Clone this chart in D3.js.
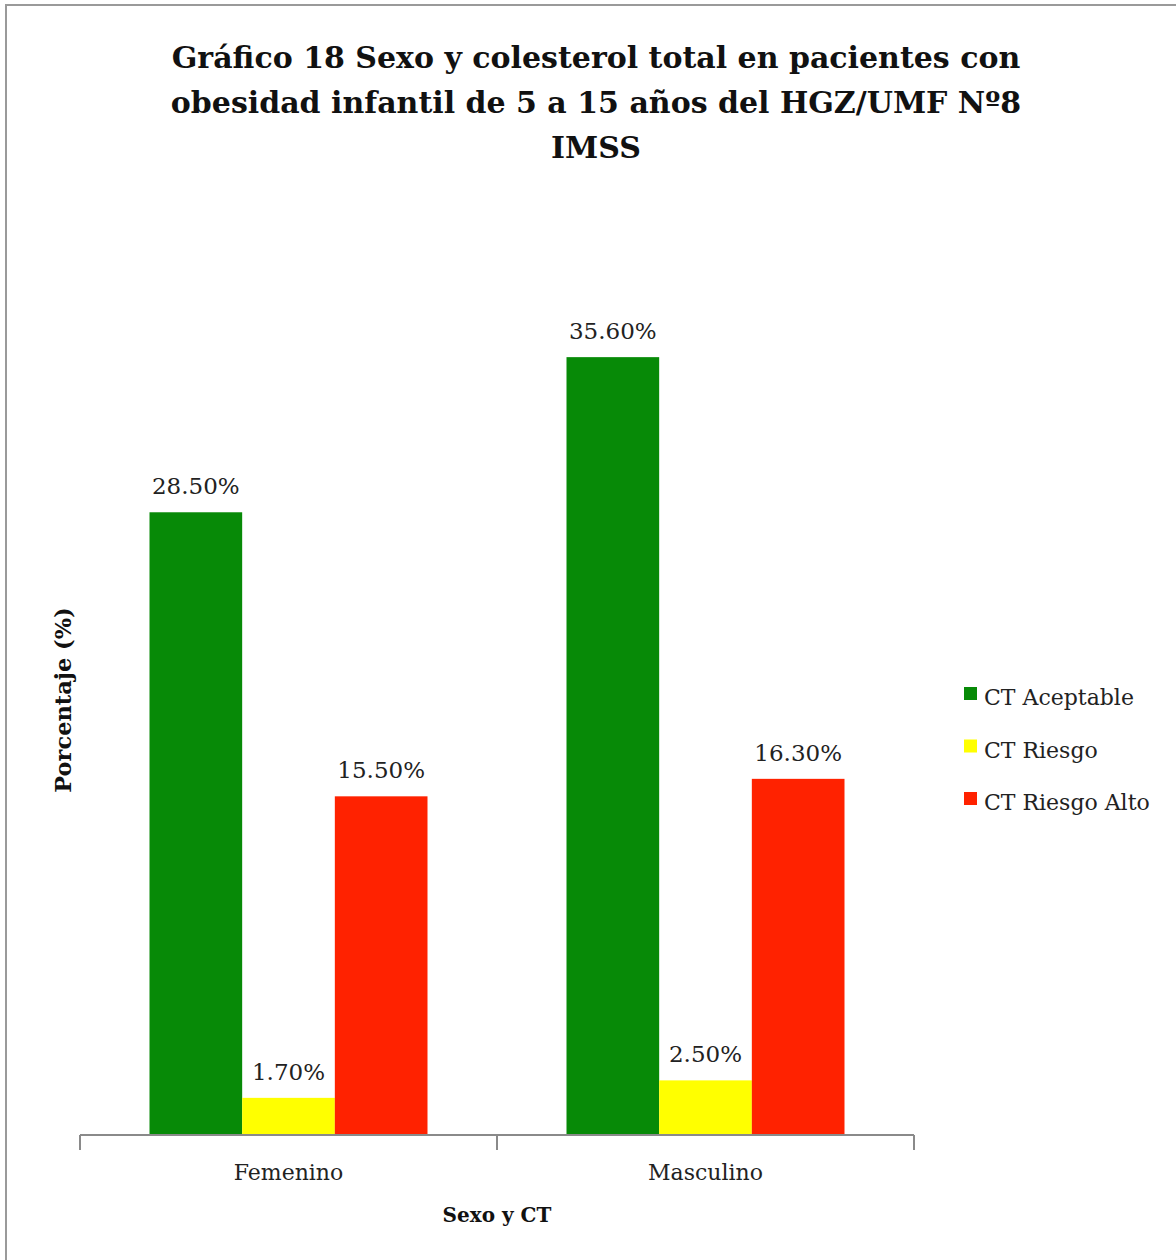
<!DOCTYPE html>
<html>
<head>
<meta charset="utf-8">
<script src="https://cdn.jsdelivr.net/npm/d3@7"></script>
<style>
  html, body { margin: 0; padding: 0; background: #fff; }
  svg { display: block; }
</style>
</head>
<body>
<svg id="chart" width="1176" height="1260"></svg>
<script>
// Data
const categories = ["Femenino", "Masculino"];
const seriesNames = ["CT Aceptable", "CT Riesgo", "CT Riesgo Alto"];
const aceptable = [28.5, 35.6];
const riesgo = [1.7, 2.5];
const riesgoAlto = [15.5, 16.3];
const seriesColors = ["#078a07", "#ffff00", "#ff2200"];
const titleLines = [
  "Gráfico 18 Sexo y colesterol total en pacientes con",
  "obesidad infantil de 5 a 15 años del HGZ/UMF Nº8",
  "IMSS"
];

const seriesValues = [aceptable, riesgo, riesgoAlto];
const rows = categories.map((c, i) => ({
  cat: c,
  vals: seriesNames.map((s, j) => ({ series: s, value: seriesValues[j][i], color: seriesColors[j] }))
}));

const svg = d3.select("#chart");
const serif = "'DejaVu Serif', 'Liberation Serif', serif";

// Outer frame
svg.append("rect")
  .attr("x", 6).attr("y", 5)
  .attr("width", 1300).attr("height", 1400)
  .attr("fill", "none").attr("stroke", "#9a9a9a").attr("stroke-width", 2);

// Title
svg.append("g").selectAll("text")
  .data(titleLines).join("text")
  .attr("x", 596)
  .attr("y", (d, i) => 68 + i * 45)
  .attr("text-anchor", "middle")
  .attr("font-family", serif)
  .attr("font-weight", "bold")
  .attr("font-size", 30)
  .attr("fill", "#111")
  .text(d => d);

// Scales
const plotLeft = 80, plotRight = 914, baseY = 1135, topY = 261;
const x0 = d3.scaleBand().domain(categories).range([plotLeft, plotRight]).padding(0);
const x1 = d3.scaleBand().domain(seriesNames).range([0, x0.bandwidth()])
  .paddingInner(0).paddingOuter(0.75);
const y = d3.scaleLinear().domain([0, 40]).range([baseY, topY]);

// Bars
const groups = svg.append("g").selectAll("g")
  .data(rows).join("g")
  .attr("transform", d => `translate(${x0(d.cat)},0)`);

groups.selectAll("rect")
  .data(d => d.vals).join("rect")
  .attr("x", d => x1(d.series))
  .attr("y", d => y(d.value))
  .attr("width", x1.bandwidth())
  .attr("height", d => y(0) - y(d.value))
  .attr("fill", d => d.color);

groups.selectAll("text")
  .data(d => d.vals).join("text")
  .attr("x", d => x1(d.series) + x1.bandwidth() / 2)
  .attr("y", d => y(d.value) - 18)
  .attr("text-anchor", "middle")
  .attr("font-family", serif)
  .attr("font-size", 23)
  .attr("fill", "#222")
  .text(d => d.value.toFixed(2) + "%");

// X axis: baseline with ticks at category boundaries
const axisG = svg.append("g");
axisG.append("line")
  .attr("x1", plotLeft).attr("x2", plotRight)
  .attr("y1", baseY).attr("y2", baseY)
  .attr("stroke", "#8a8a8a").attr("stroke-width", 2);
const boundaries = categories.map(c => x0(c)).concat([x0(categories[categories.length - 1]) + x0.bandwidth()]);
axisG.selectAll("line.tick")
  .data(boundaries).join("line")
  .attr("class", "tick")
  .attr("x1", d => d).attr("x2", d => d)
  .attr("y1", baseY).attr("y2", baseY + 15)
  .attr("stroke", "#8a8a8a").attr("stroke-width", 2);
axisG.selectAll("text")
  .data(categories).join("text")
  .attr("x", d => x0(d) + x0.bandwidth() / 2)
  .attr("y", 1180)
  .attr("text-anchor", "middle")
  .attr("font-family", serif)
  .attr("font-size", 22)
  .attr("fill", "#222")
  .text(d => d);

// Axis titles
svg.append("text")
  .attr("x", 497).attr("y", 1222)
  .attr("text-anchor", "middle")
  .attr("font-family", serif)
  .attr("font-weight", "bold")
  .attr("font-size", 20)
  .attr("fill", "#111")
  .text("Sexo y CT");

svg.append("text")
  .attr("transform", "translate(71,700) rotate(-90)")
  .attr("text-anchor", "middle")
  .attr("font-family", serif)
  .attr("font-weight", "bold")
  .attr("font-size", 22.5)
  .attr("fill", "#111")
  .text("Porcentaje (%)");

// Legend
const legend = svg.append("g").selectAll("g")
  .data(seriesNames).join("g")
  .attr("transform", (d, i) => `translate(964,${697 + i * 52.5})`);
legend.append("rect")
  .attr("x", 0).attr("y", -10)
  .attr("width", 13).attr("height", 13)
  .attr("fill", (d, i) => seriesColors[i]);
legend.append("text")
  .attr("x", 20).attr("y", 8)
  .attr("font-family", serif)
  .attr("font-size", 22)
  .attr("fill", "#222")
  .text(d => d);
</script>
</body>
</html>
